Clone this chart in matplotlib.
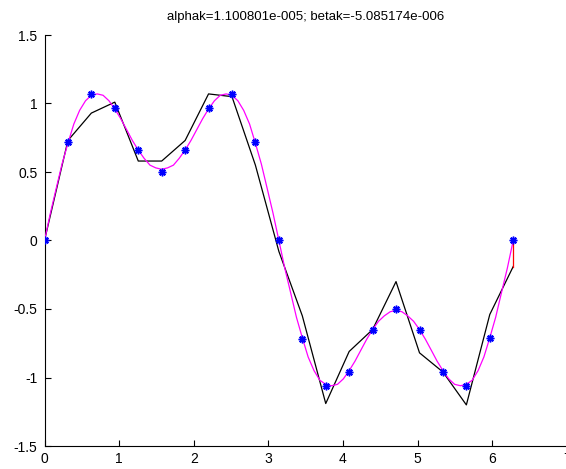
import matplotlib
matplotlib.use('Agg')
import matplotlib.pyplot as plt

plt.rcParams['font.family'] = ['Liberation Sans', 'DejaVu Sans']

title_text = 'alphak=1.100801e-005; betak=-5.085174e-006'

# sample points (blue stars)
xk = [0.000, 0.314, 0.628, 0.942, 1.257, 1.571, 1.885, 2.199, 2.513, 2.827, 3.142,
      3.456, 3.770, 4.084, 4.398, 4.712, 5.027, 5.341, 5.655, 5.969, 6.283]
yk = [0.00, 0.72, 1.07, 0.97, 0.66, 0.50, 0.66, 0.97, 1.07, 0.72, 0.00,
      -0.72, -1.06, -0.96, -0.65, -0.50, -0.65, -0.96, -1.06, -0.71, 0.00]

# black polyline, same x positions
yblack = [0.00, 0.73, 0.93, 1.01, 0.58, 0.58, 0.73, 1.07, 1.05, 0.55, -0.08,
          -0.55, -1.19, -0.81, -0.65, -0.30, -0.82, -0.96, -1.20, -0.54, -0.19]

# magenta smooth curve
xmag = [0.000, 0.079, 0.157, 0.236, 0.314, 0.393, 0.471, 0.550, 0.628, 0.707,
        0.785, 0.864, 0.942, 1.021, 1.100, 1.178, 1.257, 1.335, 1.414, 1.492,
        1.571, 1.649, 1.728, 1.806, 1.885, 1.963, 2.042, 2.121, 2.199, 2.278,
        2.356, 2.435, 2.513, 2.592, 2.670, 2.749, 2.827, 2.906, 2.985, 3.063,
        3.142, 3.220, 3.299, 3.377, 3.456, 3.534, 3.613, 3.691, 3.770, 3.848,
        3.927, 4.006, 4.084, 4.163, 4.241, 4.320, 4.398, 4.477, 4.555, 4.634,
        4.712, 4.791, 4.869, 4.948, 5.027, 5.105, 5.184, 5.262, 5.341, 5.419,
        5.498, 5.576, 5.655, 5.733, 5.812, 5.890, 5.969, 6.048, 6.126, 6.205,
        6.283]
ymag = [0.00, 0.20, 0.38, 0.56, 0.71, 0.85, 0.95, 1.02, 1.06, 1.07,
        1.06, 1.02, 0.96, 0.89, 0.81, 0.73, 0.66, 0.60, 0.55, 0.53,
        0.52, 0.53, 0.55, 0.60, 0.66, 0.73, 0.81, 0.89, 0.96, 1.02,
        1.06, 1.07, 1.06, 1.02, 0.95, 0.85, 0.71, 0.56, 0.38, 0.20,
        0.00, -0.20, -0.38, -0.56, -0.71, -0.85, -0.95, -1.02, -1.05, -1.06,
        -1.05, -1.01, -0.95, -0.88, -0.80, -0.72, -0.65, -0.59, -0.55, -0.52,
        -0.51, -0.52, -0.55, -0.59, -0.65, -0.72, -0.80, -0.88, -0.95, -1.01,
        -1.05, -1.06, -1.05, -1.02, -0.95, -0.85, -0.71, -0.56, -0.38, -0.20,
        0.00]

# red closing segment at the end
xred = [6.283, 6.283]
yred = [-0.19, 0.00]

xticks = [0, 1, 2, 3, 4, 5, 6, 7]
yticks = [-1.5, -1, -0.5, 0, 0.5, 1, 1.5]
yticklabels = ['-1.5', '-1', '-0.5', '0', '0.5', '1', '1.5']

fig = plt.figure(figsize=(5.66, 4.69), dpi=100)
ax = fig.add_axes([44.5/566, 23/469, 522.2/566, 411/469])

ax.plot(xk, yblack, color='black', lw=0.9, zorder=2)
ax.plot(xmag, ymag, color='#ff00ff', lw=0.9, zorder=3)
ax.plot(xred, yred, color='red', lw=0.9, zorder=3)
ax.plot(xk, yk, ls='none', marker=(8, 2, 0), color='blue', ms=5.5, mew=1.1, zorder=4)

ax.set_xlim(0, 7)
ax.set_ylim(-1.5, 1.5)
ax.set_xticks(xticks)
ax.set_xticklabels([str(t) for t in xticks])
ax.set_yticks(yticks)
ax.set_yticklabels(yticklabels)
ax.tick_params(direction='in', length=4, width=0.8, labelsize=10, colors='black')
ax.tick_params(axis='y', pad=5)
ax.tick_params(axis='x', pad=4)
ax.spines['top'].set_visible(False)
ax.spines['right'].set_visible(False)
for s in ['left', 'bottom']:
    ax.spines[s].set_linewidth(0.8)

fig.text(306/566, 1 - 17/469, title_text, ha='center', va='center', fontsize=9.5)

fig.savefig('out.png', dpi=100)
